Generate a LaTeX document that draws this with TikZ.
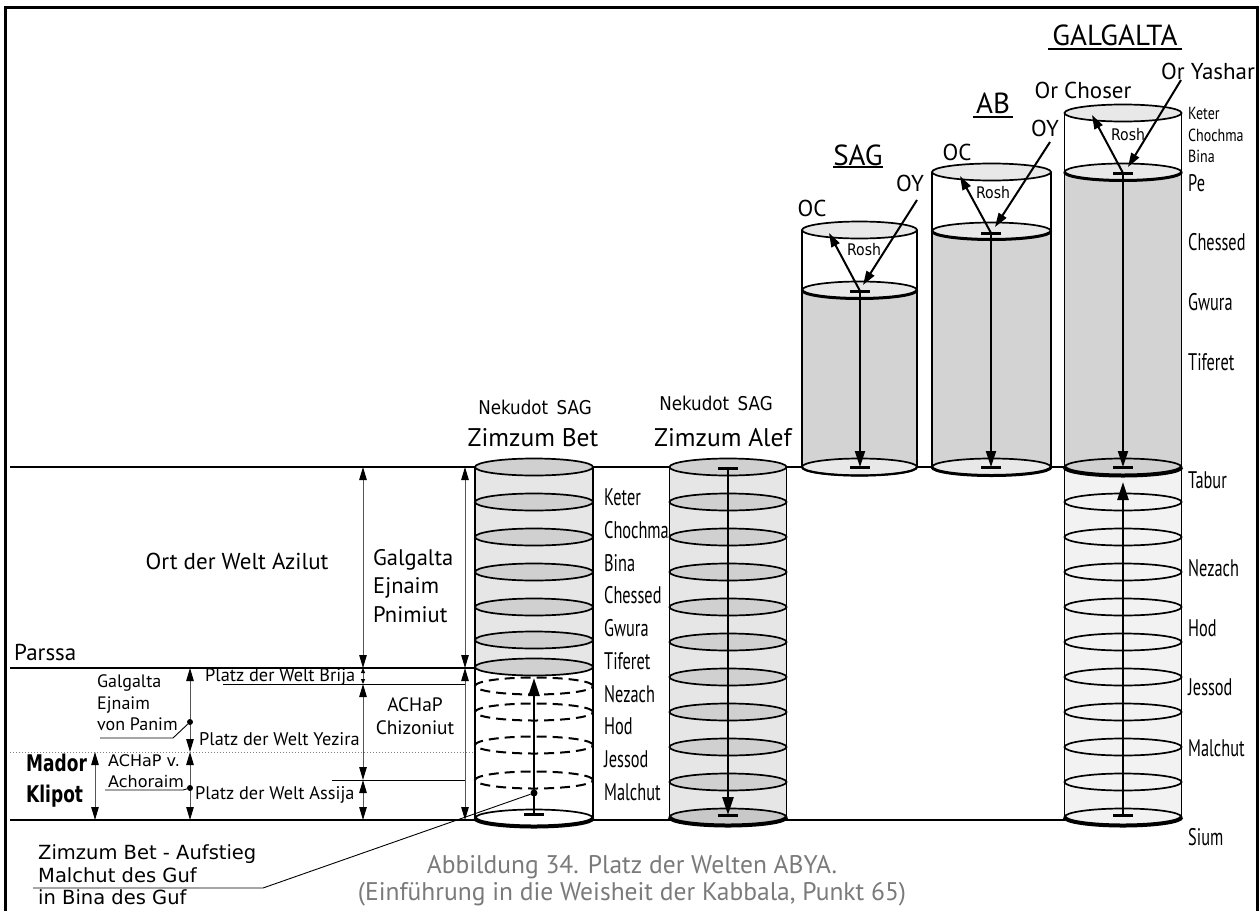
\documentclass[tikz,border=0pt]{standalone}
\usepackage{fontspec}
\setmainfont{PT Sans}
\newfontfamily\condf[FakeStretch=0.68]{PT Sans}
\newfontfamily\condsm[FakeStretch=0.8]{PT Sans}
\newfontfamily\techf[FakeStretch=0.88]{DejaVu Sans}
\newfontfamily\madorf[FakeStretch=0.74]{DejaVu Sans}
\newfontfamily\wideF{DejaVu Sans}
\usetikzlibrary{arrows.meta}
\definecolor{ringgray}{HTML}{D0D0D0}
\definecolor{bodylight}{HTML}{E6E6E6}
\definecolor{bodydark}{HTML}{D3D3D3}
\definecolor{bodypale}{HTML}{F2F2F2}
\definecolor{capgray}{HTML}{7A7A7A}
\definecolor{dimgray}{HTML}{555555}
\definecolor{topgray}{HTML}{E8E8E8}
\definecolor{basegray}{HTML}{C8C8C8}
\tikzset{
  ring/.style={line width=1.7pt},
  dimarrow/.style={draw=dimgray, line width=1pt,
    {Triangle[length=13pt,width=7.5pt,color=black]}-{Triangle[length=13pt,width=7.5pt,color=black]}},
  tinyarrow/.style={draw=dimgray, line width=1pt,
    {Triangle[length=5pt,width=4pt,color=black]}-{Triangle[length=5pt,width=4pt,color=black]}},
  bigarrow/.style={line width=2.6pt, -{Triangle[length=18pt,width=11pt]}},
  midarrow/.style={line width=2pt, -{Triangle[length=16pt,width=10pt]}},
  rayarrow/.style={line width=2pt, -{Triangle[length=14pt,width=9pt]}},
  tbar/.style={line width=3pt},
  leader/.style={line width=0.9pt},
  dotn/.style={circle, fill=black, inner sep=0pt, minimum size=7pt},
  txt/.style={inner sep=0pt, font=\fontsize{23}{29}\selectfont},
  seflbl/.style={inner sep=0pt, anchor=west, font=\condf\fontsize{24}{26}\selectfont},
  sefsmall/.style={inner sep=0pt, anchor=west, font=\condsm\fontsize{17.5}{19}\selectfont},
  platz/.style={inner sep=0pt, anchor=west, font=\fontsize{18.3}{20}\selectfont},
  toplbl/.style={inner sep=0pt, font=\fontsize{23}{26}\selectfont},
  titlelbl/.style={inner sep=0pt, font=\fontsize{29}{32}\selectfont},
  roshlbl/.style={inner sep=0pt, font=\techf\fontsize{16}{17}\selectfont},
  neklbl/.style={inner sep=0pt, font=\techf\fontsize{19}{21}\selectfont},
}
\newcommand{\cylbase}[4][4pt]{\draw[line width=#1] (#2-#4,#3) arc[start angle=180,end angle=360,x radius=#4pt,y radius=8.5pt];}
\begin{document}
\begin{tikzpicture}[x=1pt,y=-1pt]
\useasboundingbox (0,0) rectangle (1260,910);
% frame
\draw[line width=3pt] (5,912) -- (5,7) -- (1257,7) -- (1257,912);
% level lines
\coordinate (taburL) at (10,467); \coordinate (taburR) at (1065,467);
\coordinate (siumL) at (10,820); \coordinate (siumR) at (1065,820);
\coordinate (parL) at (10,668); \coordinate (parR) at (475,668);
\coordinate (dotL) at (10,752); \coordinate (dotR) at (475,752);
\draw[line width=2pt] (taburL) -- (taburR);
\draw[line width=2pt] (siumL) -- (siumR);
\draw[line width=1.5pt] (parL) -- (parR);
\draw[gray, line width=1pt, dotted] (dotL) -- (dotR);
\coordinate (brL) at (223,684); \coordinate (brR) at (465,684);
\coordinate (asL) at (332,780); \coordinate (asR) at (465,780);
\draw[leader] (brL) -- (brR);
\draw[leader] (asL) -- (asR);

% ===== Cylinder A : Zimzum Bet =====
\fill[bodylight] (475,467) rectangle (593,667);
\fill[white] (475,667) rectangle (593,818);
\draw[ring] (475,467) -- (475,818) (593,467) -- (593,818);
\foreach \yy in {467,502,537,572,607,640,667}
  \draw[ring, fill=ringgray] (534,\yy) ellipse [x radius=59pt, y radius=8.5pt];
\foreach \yy in {686,712,745,780}
  \draw[line width=2pt, dash pattern=on 10pt off 6pt] (534,\yy) ellipse [x radius=59pt, y radius=8.5pt];
\draw[ring, fill=white] (534,818) ellipse [x radius=59pt, y radius=8.5pt];
\cylbase{534}{818}{59}

% ===== Cylinder B : Zimzum Alef =====
\fill[bodylight] (669.5,467) rectangle (786.5,817);
\draw[ring] (669.5,467) -- (669.5,817) (786.5,467) -- (786.5,817);
\foreach \yy in {467,502,537,572,607,642,677,712,747,782}
  \draw[ring, fill=ringgray] (728,\yy) ellipse [x radius=58.5pt, y radius=8.5pt];
\draw[ring, fill=basegray] (728,817) ellipse [x radius=58.5pt, y radius=8.5pt];
\cylbase{728}{817}{58.5}

% ===== SAG =====
\fill[white] (802,230) rectangle (917,290);
\fill[bodydark] (802,290) rectangle (917,467);
\draw[ring] (802,230) -- (802,467) (917,230) -- (917,467);
\draw[ring, fill=topgray] (859.5,230) ellipse [x radius=57.5pt, y radius=8.5pt];
\draw[ring, fill=topgray] (859.5,290) ellipse [x radius=57.5pt, y radius=8.5pt];
\cylbase[3pt]{859.5}{290}{57.5}
\draw[ring, fill=topgray] (859.5,467) ellipse [x radius=57.5pt, y radius=8.5pt];
\cylbase[2.2pt]{859.5}{467}{57.5}

% ===== AB =====
\fill[white] (932,172) rectangle (1051,231);
\fill[bodydark] (932,231) rectangle (1051,467);
\draw[ring] (932,172) -- (932,467) (1051,172) -- (1051,467);
\draw[ring, fill=topgray] (991.5,172) ellipse [x radius=59.5pt, y radius=8.5pt];
\draw[ring, fill=topgray] (991.5,231) ellipse [x radius=59.5pt, y radius=8.5pt];
\cylbase[3pt]{991.5}{231}{59.5}
\draw[ring, fill=topgray] (991.5,467) ellipse [x radius=59.5pt, y radius=8.5pt];
\cylbase[3pt]{991.5}{467}{59.5}

% ===== GALGALTA =====
\fill[white] (1064.5,113) rectangle (1181.5,172);
\fill[bodydark] (1064.5,172) rectangle (1181.5,467);
\fill[bodypale] (1064.5,467) rectangle (1181.5,817);
\draw[ring] (1064.5,113) -- (1064.5,817) (1181.5,113) -- (1181.5,817);
\draw[ring, fill=topgray] (1123,113) ellipse [x radius=58.5pt, y radius=8.5pt];
\draw[ring, fill=topgray] (1123,172) ellipse [x radius=58.5pt, y radius=8.5pt];
\cylbase[3pt]{1123}{172}{58.5}
\foreach \yy in {502,537,572,607,642,677,712,747,782}
  \draw[ring] (1123,\yy) ellipse [x radius=58.5pt, y radius=8.5pt];
\draw[ring, fill=ringgray] (1123,467) ellipse [x radius=58.5pt, y radius=8.5pt];
\cylbase{1123}{467}{58.5}
\draw[ring, fill=bodypale] (1123,817) ellipse [x radius=58.5pt, y radius=8.5pt];
\cylbase{1123}{817}{58.5}

% ===== vertical arrows in cylinders =====
\coordinate (aBot) at (534,814); \coordinate (aTop) at (534,678);
\node[dotn] (aDot) at (534,793) {};
\draw[bigarrow] (aBot) -- (aTop);
\draw[tbar] ([xshift=-10pt]aBot) -- ([xshift=10pt]aBot);

\coordinate (bTop) at (728,468); \coordinate (bBot) at (728,815);
\draw[bigarrow] (bTop) -- (bBot);
\draw[tbar] ([xshift=-10pt]bTop) -- ([xshift=10pt]bTop);
\draw[tbar] ([xshift=-10pt]bBot) -- ([xshift=10pt]bBot);

\coordinate (sPe) at (860,291); \coordinate (sTab) at (860,467);
\draw[midarrow] (sPe) -- (sTab);
\draw[tbar] ([xshift=-10pt]sPe) -- ([xshift=10pt]sPe);
\draw[tbar] ([xshift=-10pt]sTab) -- ([xshift=10pt]sTab);

\coordinate (abPe) at (991,233); \coordinate (abTab) at (991,467);
\draw[midarrow] (abPe) -- (abTab);
\draw[tbar] ([xshift=-10pt]abPe) -- ([xshift=10pt]abPe);
\draw[tbar] ([xshift=-10pt]abTab) -- ([xshift=10pt]abTab);

\coordinate (gPe) at (1123,173); \coordinate (gTab) at (1123,467);
\coordinate (gSium) at (1123,815); \coordinate (gUp) at (1123,482);
\draw[midarrow] (gPe) -- (gTab);
\draw[tbar] ([xshift=-10pt]gPe) -- ([xshift=10pt]gPe);
\draw[tbar] ([xshift=-10pt]gTab) -- ([xshift=10pt]gTab);
\draw[bigarrow, line width=2.4pt] (gSium) -- (gUp);
\draw[tbar] ([xshift=-10pt]gSium) -- ([xshift=10pt]gSium);

% ===== Rosh rays =====
\coordinate (sOCt) at (829,233); \coordinate (sOYs) at (917,200); \coordinate (sOYe) at (863,285);
\draw[rayarrow] (sPe) -- (sOCt);
\draw[rayarrow] (sOYs) -- (sOYe);
\coordinate (abOCt) at (960,176); \coordinate (abOYs) at (1050,142); \coordinate (abOYe) at (995,227);
\draw[rayarrow] (abPe) -- (abOCt);
\draw[rayarrow] (abOYs) -- (abOYe);
\coordinate (gOCt) at (1092,115); \coordinate (gOYs) at (1181,80); \coordinate (gOYe) at (1128,167);
\draw[rayarrow] (gPe) -- (gOCt);
\draw[rayarrow] (gOYs) -- (gOYe);

\node[roshlbl] (sRosh) at (864,250) {Rosh};
\node[roshlbl] (abRosh) at (993,193) {Rosh};
\node[roshlbl] (gRosh) at (1128,135) {Rosh};
\node[toplbl] (sOC) at (812,208) {OC};
\node[toplbl] (sOY) at (910,183) {OY};
\node[toplbl] (abOC) at (957,152) {OC};
\node[toplbl] (abOY) at (1045,128) {OY};
\node[toplbl] (gOC) at (1083,90) {Or Choser};
\node[toplbl] (gOY) at (1208,71) {Or Yashar};
\node[titlelbl] (sagT) at (858,155) {SAG};
\node[titlelbl] (abT) at (993,103) {AB};
\node[titlelbl] (galT) at (1115,35) {GALGALTA};
\draw[line width=2pt] (833,167) -- (883,167);
\draw[line width=2pt] (973,117) -- (1013,117);
\draw[line width=2pt] (1048,49) -- (1182,49);

% ===== right sefirot labels =====
\node[sefsmall] (rKeter) at (1188,113) {Keter};
\node[sefsmall] (rChochma) at (1188,135) {Chochma};
\node[sefsmall] (rBina) at (1188,156) {Bina};
\node[seflbl] (rPe) at (1188,183) {Pe};
\node[seflbl] (rChessed) at (1188,242) {Chessed};
\node[seflbl] (rGwura) at (1188,302) {Gwura};
\node[seflbl] (rTiferet) at (1188,362) {Tiferet};
\node[seflbl] (rTabur) at (1188,480) {Tabur};
\node[seflbl] (rNezach) at (1188,568) {Nezach};
\node[seflbl] (rHod) at (1188,628) {Hod};
\node[seflbl] (rJessod) at (1188,687) {Jessod};
\node[seflbl] (rMalchut) at (1188,748) {Malchut};
\node[seflbl] (rSium) at (1188,837) {Sium};

% ===== middle sefirot labels =====
\foreach \nm [count=\i from 0] in {Keter,Chochma,Bina,Chessed,Gwura,Tiferet,Nezach,Hod,Jessod,Malchut}
  \node[seflbl] (m\nm) at (604,{497+32.8*\i}) {\nm};

% headings of middle cylinders
\node[neklbl] (nek1) at (535,407) {Nekudot\, SAG};
\node[neklbl] (nek2) at (716,403) {Nekudot\, SAG};
\node[txt, font=\fontsize{25.5}{28}\selectfont] (zzb) at (533,438) {Zimzum Bet};
\node[txt, font=\fontsize{25.5}{28}\selectfont] (zza) at (723,438) {Zimzum Alef};

% ===== left dimension arrows =====
\coordinate (d1t) at (363,467); \coordinate (d1b) at (363,668);
\draw[dimarrow] (d1t) -- (d1b);
\coordinate (d2t) at (465,467); \coordinate (d2b) at (465,668); \coordinate (d2c) at (465,820);
\draw[dimarrow] (d2t) -- (d2b);
\draw[dimarrow] (d2b) -- (d2c);
\coordinate (d3a) at (363,668); \coordinate (d3b) at (363,684); \coordinate (d3c) at (363,780); \coordinate (d3d) at (363,820);
\draw[tinyarrow] (d3a) -- (d3b);
\draw[dimarrow] (d3b) -- (d3c);
\draw[dimarrow] (d3c) -- (d3d);
\coordinate (d4a) at (190,668); \coordinate (d4b) at (190,752); \coordinate (d4c) at (190,820);
\draw[dimarrow] (d4a) -- (d4b);
\draw[dimarrow] (d4b) -- (d4c);
\node[dotn, minimum size=6pt] (pDot1) at (190,722) {};
\node[dotn, minimum size=6pt] (pDot2) at (190,788) {};
\coordinate (d5a) at (95,752); \coordinate (d5b) at (95,820);
\draw[dimarrow] (d5a) -- (d5b);

% leaders
\coordinate (l1a) at (100,738); \coordinate (l1b) at (173,738);
\draw[leader] (l1a) -- (l1b) -- (pDot1);
\coordinate (l2a) at (105,790); \coordinate (l2b) at (183,790);
\draw[leader] (l2a) -- (l2b) -- (pDot2);
\coordinate (l3a) at (33,888); \coordinate (l3b) at (263,888);
\draw[leader] (l3a) -- (l3b) -- (aDot);

% ===== left texts =====
\node[txt] (azilut) at (237,561) {Ort der Welt Azilut};
\node[txt, anchor=west, align=left, font=\fontsize{22.5}{28.5}\selectfont] (gep) at (373,586) {Galgalta\\Ejnaim\\Pnimiut};
\node[txt, anchor=west] (parssa) at (14,652) {Parssa};
\node[platz] (brija) at (205,677) {Platz der Welt Brija};
\node[platz] (yezira) at (199,739) {Platz der Welt Yezira};
\node[platz] (assija) at (195,795) {Platz der Welt Assija};
\node[txt, anchor=west, align=left, font=\fontsize{18}{21.5}\selectfont] (gevp) at (97,703) {Galgalta\\Ejnaim\\von Panim};
\node[txt, align=center, font=\fontsize{19.4}{23}\selectfont] (chiz) at (415,716) {ACHaP\\Chizoniut};
\node[txt, anchor=west, align=left, font=\wideF\fontsize{16}{21}\selectfont] (achor) at (108,771) {ACHaP v.\\Achoraim};
\node[txt, anchor=west, align=left, font=\madorf\bfseries\fontsize{23}{31}\selectfont] (mador) at (26,781) {Mador\\Klipot};
\node[txt, anchor=west, align=left, font=\wideF\fontsize{19.5}{22.5}\selectfont] (zbtext) at (38,875) {Zimzum Bet - Aufstieg\\Malchut des Guf\\in Bina des Guf};
\node[txt, align=center, text=capgray, font=\fontsize{25.5}{27}\selectfont] (caption) at (632,881) {Abbildung 34. Platz der Welten ABYA.\\(Einführung in die Weisheit der Kabbala, Punkt 65)};
\end{tikzpicture}
\end{document}
